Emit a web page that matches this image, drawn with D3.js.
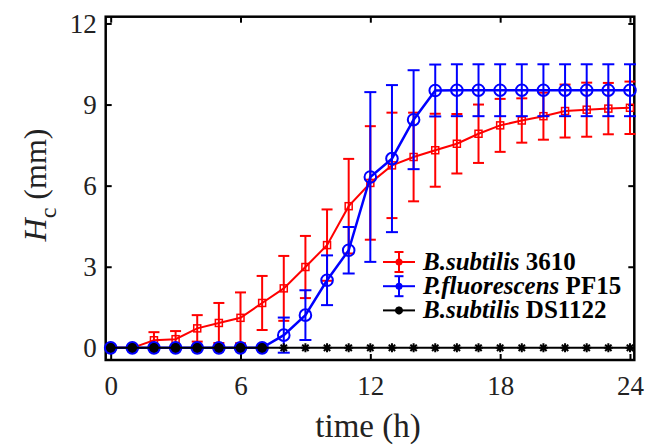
<!DOCTYPE html>
<html>
<head>
<meta charset="utf-8">
<script src="https://cdn.jsdelivr.net/npm/d3@7"></script>
<style>
  body { margin: 0; background: #fff; }
  svg { font-family: "Liberation Serif", "Times New Roman", serif; }
</style>
</head>
<body>
<svg id="chart" width="647" height="447"></svg>
<script>
// time points (h)
var hours = d3.range(0, 25);

// B.subtilis 3610
var redVals = [0, 0, 0.28, 0.32, 0.72, 0.92, 1.11, 1.66, 2.2, 2.99, 3.8, 5.24, 6.1, 6.75,
               7.06, 7.31, 7.55, 7.92, 8.23, 8.41, 8.57, 8.76, 8.81, 8.85, 8.88];
var redErr = [0, 0, 0.3, 0.3, 0.49, 0.74, 0.94, 1.0, 1.2, 1.15, 1.32, 1.75, 2.1, 1.95,
              1.64, 1.35, 1.1, 1.08, 0.98, 0.82, 0.87, 0.98, 1.0, 0.95, 0.97];

// P.fluorescens PF15
var blueVals = [0, 0, 0, 0, 0, 0, 0, 0, 0.47, 1.21, 2.5, 3.61, 6.32, 7.0,
                8.44, 9.52, 9.53, 9.53, 9.53, 9.53, 9.53, 9.53, 9.53, 9.53, 9.53];
var blueErr = [0, 0, 0, 0, 0, 0, 0, 0, 0.65, 0.92, 0.92, 0.86, 3.14, 2.72,
               1.83, 0.96, 0.96, 0.96, 0.96, 0.96, 0.96, 0.96, 0.96, 0.96, 0.96];

// B.subtilis DS1122
var blackVals = hours.map(() => 0);

var xTicks = [0, 6, 12, 18, 24];
var yTicks = [0, 3, 6, 9, 12];

var svg = d3.select("#chart");
var pLeft = 105.7, pRight = 634.3, pTop = 16.7, pBottom = 360;

var x = d3.scaleLinear().domain([-0.23, 24.2]).range([pLeft, pRight]);
var y = d3.scaleLinear().domain([-0.45, 12.25]).range([pBottom, pTop]);

// axes with inward ticks, mirrored on top / right
svg.append("g")
    .attr("transform", "translate(0," + pBottom + ")")
    .call(d3.axisBottom(x).tickValues(xTicks).tickSize(-6).tickPadding(16));
svg.append("g")
    .attr("transform", "translate(0," + pTop + ")")
    .call(d3.axisTop(x).tickValues(xTicks).tickSize(-6).tickFormat(""));
svg.append("g")
    .attr("transform", "translate(" + pLeft + ",0)")
    .call(d3.axisLeft(y).tickValues(yTicks).tickSize(-6).tickPadding(9));
svg.append("g")
    .attr("transform", "translate(" + pRight + ",0)")
    .call(d3.axisRight(y).tickValues(yTicks).tickSize(-6).tickFormat(""));

svg.selectAll(".domain").remove();
svg.selectAll(".tick line").attr("stroke", "#000").attr("stroke-width", 2);
svg.selectAll(".tick text")
    .attr("font-family", "Liberation Serif")
    .attr("font-size", 27)
    .attr("fill", "#222");

svg.append("rect")
    .attr("x", pLeft).attr("y", pTop)
    .attr("width", pRight - pLeft).attr("height", pBottom - pTop)
    .attr("fill", "none").attr("stroke", "#000").attr("stroke-width", 2.5);

// axis titles
svg.append("text")
    .attr("x", (pLeft + pRight) / 2 - 2).attr("y", 437)
    .attr("text-anchor", "middle")
    .attr("font-size", 33).attr("fill", "#222")
    .text("time (h)");

var yl = svg.append("text")
    .attr("transform", "translate(46,185) rotate(-90)")
    .attr("text-anchor", "middle")
    .attr("font-size", 32).attr("fill", "#222");
yl.append("tspan").attr("font-style", "italic").text("H");
yl.append("tspan").attr("font-size", 24).attr("dy", 10).text("c");
yl.append("tspan").attr("dy", -10).text(" (mm)");

var line = d3.line().x(d => x(d[0])).y(d => y(d[1]));

function errorBars(vals, errs, color, cap) {
  var g = svg.append("g").attr("stroke", color).attr("stroke-width", 2).attr("fill", "none");
  hours.forEach((h, i) => {
    if (!errs[i]) return;
    var lo = y(vals[i] - errs[i]), hi = y(vals[i] + errs[i]), cx = x(h);
    g.append("line").attr("x1", cx).attr("x2", cx).attr("y1", lo).attr("y2", hi);
    g.append("line").attr("x1", cx - cap).attr("x2", cx + cap).attr("y1", lo).attr("y2", lo);
    g.append("line").attr("x1", cx - cap).attr("x2", cx + cap).attr("y1", hi).attr("y2", hi);
  });
}

function starPath(s) {
  var d = s * 0.7071;
  return "M" + (-s) + ",0L" + s + ",0M0," + (-s) + "L0," + s +
         "M" + (-d) + "," + (-d) + "L" + d + "," + d +
         "M" + (-d) + "," + d + "L" + d + "," + (-d);
}

// red: B.subtilis 3610
errorBars(redVals, redErr, "#ff0000", 5.5);
svg.append("path")
    .datum(hours.map((h, i) => [h, redVals[i]]))
    .attr("d", line).attr("fill", "none").attr("stroke", "#ff0000").attr("stroke-width", 2);
svg.append("g").selectAll("rect")
    .data(hours.map((h, i) => [h, redVals[i]]))
    .join("rect")
    .attr("x", d => x(d[0]) - 3.5).attr("y", d => y(d[1]) - 3.5)
    .attr("width", 7).attr("height", 7)
    .attr("fill", "none").attr("stroke", "#ff0000").attr("stroke-width", 1.5);

// blue: P.fluorescens PF15
errorBars(blueVals, blueErr, "#0000ff", 6);
svg.append("path")
    .datum(hours.map((h, i) => [h, blueVals[i]]))
    .attr("d", line).attr("fill", "none").attr("stroke", "#0000ff").attr("stroke-width", 2.5);
svg.append("g").selectAll("circle")
    .data(hours.map((h, i) => [h, blueVals[i], blackVals[i]]))
    .join("circle")
    .attr("cx", d => x(d[0])).attr("cy", d => y(d[1])).attr("r", 5.8)
    .attr("fill", d => d[1] === d[2] ? "#000" : "none")
    .attr("stroke", "#0000ff").attr("stroke-width", 2);

// black: B.subtilis DS1122
svg.append("path")
    .datum(hours.map((h, i) => [h, blackVals[i]]))
    .attr("d", line).attr("fill", "none").attr("stroke", "#000").attr("stroke-width", 2);
svg.append("g").selectAll("path")
    .data(hours.map((h, i) => [h, blackVals[i]]))
    .join("path")
    .attr("transform", d => "translate(" + x(d[0]) + "," + y(d[1]) + ")")
    .attr("d", starPath(4.5))
    .attr("fill", "none").attr("stroke", "#000").attr("stroke-width", 2);

// legend
var legend = [
  {color: "#ff0000", sp: "B.subtilis", strain: " 3610", bar: true},
  {color: "#0000ff", sp: "P.fluorescens", strain: " PF15", bar: true},
  {color: "#000", sp: "B.subtilis", strain: " DS1122", bar: false}
];
var lg = svg.append("g");
legend.forEach((L, i) => {
  var ly = 262 + i * 24.2;
  lg.append("line").attr("x1", 383).attr("x2", 415).attr("y1", ly).attr("y2", ly)
    .attr("stroke", L.color).attr("stroke-width", 2);
  if (L.bar) {
    lg.append("line").attr("x1", 399).attr("x2", 399).attr("y1", ly - 10).attr("y2", ly + 10)
      .attr("stroke", L.color).attr("stroke-width", 2);
    [ly - 10, ly + 10].forEach(cy => lg.append("line")
      .attr("x1", 394.5).attr("x2", 403.5).attr("y1", cy).attr("y2", cy)
      .attr("stroke", L.color).attr("stroke-width", 2));
    lg.append("circle").attr("cx", 399).attr("cy", ly).attr("r", 3.5).attr("fill", L.color);
  } else {
    lg.append("path").attr("transform", "translate(399," + ly + ")")
      .attr("d", starPath(4)).attr("stroke", "#000").attr("stroke-width", 2.5);
  }
  var t = lg.append("text").attr("x", 423).attr("y", ly + 8)
    .attr("font-size", 25).attr("font-weight", "bold").attr("fill", "#000");
  t.append("tspan").attr("font-style", "italic").text(L.sp);
  t.append("tspan").text(L.strain);
});
</script>
</body>
</html>
